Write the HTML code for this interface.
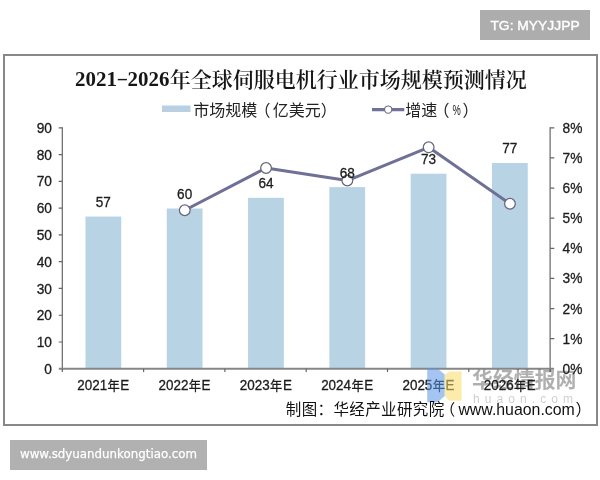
<!DOCTYPE html>
<html lang="zh-CN"><head><meta charset="utf-8"><title>2021-2026年全球伺服电机行业市场规模预测情况</title>
<style>
html,body{margin:0;padding:0;background:#fff;}
body{width:600px;height:480px;overflow:hidden;position:relative;font-family:"Liberation Sans","Noto Sans CJK SC",sans-serif;}
svg{position:absolute;left:0;top:0;display:block}
text{font-family:"Liberation Sans","Noto Sans CJK SC",sans-serif;fill:#1c1c1c}
.ax{stroke:#1c1c1c;stroke-width:0.3px}
.title{font-family:"Liberation Serif","Noto Serif CJK SC",serif;font-weight:bold;fill:#161616}
.lg{fill:#222}
.src{fill:#111}
.badge{font-family:"DejaVu Sans","Liberation Sans",sans-serif;fill:#fff}
</style></head><body>
<svg width="600" height="480" viewBox="0 0 600 480">
<rect x="0" y="0" width="600" height="480" fill="#fff"/>
<rect x="480" y="10" width="110" height="30" fill="#adadad"/>
<text transform="translate(490.4 29.6) scale(1.1 1)" font-size="12.6" stroke="#fff" stroke-width="0.35" style="font-family:'Liberation Sans',sans-serif;fill:#fff">TG: MYYJJPP</text>
<rect x="4" y="55" width="593" height="370" fill="#fff" stroke="#888" stroke-width="2"/>
<text class="title" transform="translate(75.1 86) scale(0.96 1)" font-size="21.8">2021</text>
<text class="title" transform="translate(116.6 83.6) scale(1.62 0.8)" font-size="21.8">-</text>
<text class="title" transform="translate(127.6 86) scale(0.96 1)" font-size="21.8">2026</text>
<text class="title" x="169.8" y="87.3" font-size="21" style="font-weight:600">年全球伺服电机行业市场规模预测情况</text>
<rect x="162" y="105.5" width="28.5" height="6.5" fill="#b9d0e3"/>
<text class="lg" x="193.2" y="115.7" font-size="16">市场规模<tspan dx="-2.6">（</tspan><tspan dx="2.2">亿美元）</tspan></text>
<line x1="372" y1="109.6" x2="404.3" y2="109.6" stroke="#70729a" stroke-width="3.1"/>
<circle cx="388.2" cy="109.6" r="3.65" fill="#fff" stroke="#6a6c88" stroke-width="1.15"/>
<text class="lg" y="115.7" font-size="16"><tspan x="405.2">增速</tspan><tspan x="433.4">（</tspan><tspan x="462.6">）</tspan></text>
<text class="lg" transform="translate(452.4 115) scale(0.62 1)" font-size="15" fill="#444">%</text>
<rect x="85.45" y="216.57" width="35.8" height="152.23" fill="#b8d3e4"/>
<rect x="166.75" y="208.53" width="35.8" height="160.27" fill="#b8d3e4"/>
<rect x="248.05" y="197.82" width="35.8" height="170.98" fill="#b8d3e4"/>
<rect x="329.35" y="187.11" width="35.8" height="181.69" fill="#b8d3e4"/>
<rect x="410.65" y="173.72" width="35.8" height="195.08" fill="#b8d3e4"/>
<rect x="491.95" y="163.01" width="35.8" height="205.79" fill="#b8d3e4"/>
<path d="M62.3 127.3V369.6M550.1 127.3V369.6" fill="none" stroke="#666" stroke-width="1.2"/>
<path d="M58.8 368.8H554.1" fill="none" stroke="#868686" stroke-width="1.9"/>
<path d="M58.70 342.02H62.3M58.70 315.24H62.3M58.70 288.47H62.3M58.70 261.69H62.3M58.70 234.91H62.3M58.70 208.13H62.3M58.70 181.36H62.3M58.70 154.58H62.3M58.70 127.80H62.3M550.1 338.68H554.30M550.1 308.55H554.30M550.1 278.43H554.30M550.1 248.30H554.30M550.1 218.18H554.30M550.1 188.05H554.30M550.1 157.93H554.30M550.1 127.80H554.30M62.30 368.8V372.00M143.60 368.8V372.00M224.90 368.8V372.00M306.20 368.8V372.00M387.50 368.8V372.00M468.80 368.8V372.00M550.10 368.8V372.00" fill="none" stroke="#666" stroke-width="1.2"/>
<text class="ax" transform="translate(52.00 373.90) scale(0.96 1)" font-size="14.3" text-anchor="end" >0</text>
<text class="ax" transform="translate(52.00 347.12) scale(0.96 1)" font-size="14.3" text-anchor="end" >10</text>
<text class="ax" transform="translate(52.00 320.34) scale(0.96 1)" font-size="14.3" text-anchor="end" >20</text>
<text class="ax" transform="translate(52.00 293.57) scale(0.96 1)" font-size="14.3" text-anchor="end" >30</text>
<text class="ax" transform="translate(52.00 266.79) scale(0.96 1)" font-size="14.3" text-anchor="end" >40</text>
<text class="ax" transform="translate(52.00 240.01) scale(0.96 1)" font-size="14.3" text-anchor="end" >50</text>
<text class="ax" transform="translate(52.00 213.23) scale(0.96 1)" font-size="14.3" text-anchor="end" >60</text>
<text class="ax" transform="translate(52.00 186.46) scale(0.96 1)" font-size="14.3" text-anchor="end" >70</text>
<text class="ax" transform="translate(52.00 159.68) scale(0.96 1)" font-size="14.3" text-anchor="end" >80</text>
<text class="ax" transform="translate(52.00 132.90) scale(0.96 1)" font-size="14.3" text-anchor="end" >90</text>
<text class="ax" transform="translate(562.50 373.80) scale(0.96 1)" font-size="14.3" text-anchor="start" >0%</text>
<text class="ax" transform="translate(562.50 343.68) scale(0.96 1)" font-size="14.3" text-anchor="start" >1%</text>
<text class="ax" transform="translate(562.50 313.55) scale(0.96 1)" font-size="14.3" text-anchor="start" >2%</text>
<text class="ax" transform="translate(562.50 283.43) scale(0.96 1)" font-size="14.3" text-anchor="start" >3%</text>
<text class="ax" transform="translate(562.50 253.30) scale(0.96 1)" font-size="14.3" text-anchor="start" >4%</text>
<text class="ax" transform="translate(562.50 223.18) scale(0.96 1)" font-size="14.3" text-anchor="start" >5%</text>
<text class="ax" transform="translate(562.50 193.05) scale(0.96 1)" font-size="14.3" text-anchor="start" >6%</text>
<text class="ax" transform="translate(562.50 162.93) scale(0.96 1)" font-size="14.3" text-anchor="start" >7%</text>
<text class="ax" transform="translate(562.50 132.80) scale(0.96 1)" font-size="14.3" text-anchor="start" >8%</text>
<text class="ax" transform="translate(103.25 390.20) scale(0.94 1)" font-size="14.3" text-anchor="middle" >2021<tspan font-size="13" dx="0.4">年</tspan><tspan dx="0.6">E</tspan></text>
<text class="ax" transform="translate(184.55 390.20) scale(0.94 1)" font-size="14.3" text-anchor="middle" >2022<tspan font-size="13" dx="0.4">年</tspan><tspan dx="0.6">E</tspan></text>
<text class="ax" transform="translate(265.85 390.20) scale(0.94 1)" font-size="14.3" text-anchor="middle" >2023<tspan font-size="13" dx="0.4">年</tspan><tspan dx="0.6">E</tspan></text>
<text class="ax" transform="translate(347.15 390.20) scale(0.94 1)" font-size="14.3" text-anchor="middle" >2024<tspan font-size="13" dx="0.4">年</tspan><tspan dx="0.6">E</tspan></text>
<text class="ax" transform="translate(428.45 390.20) scale(0.94 1)" font-size="14.3" text-anchor="middle" >2025<tspan font-size="13" dx="0.4">年</tspan><tspan dx="0.6">E</tspan></text>
<text class="ax" transform="translate(509.75 390.20) scale(0.94 1)" font-size="14.3" text-anchor="middle" >2026<tspan font-size="13" dx="0.4">年</tspan><tspan dx="0.6">E</tspan></text>
<polyline points="184.75,210.25 266.05,167.97 347.35,180.52 428.65,147.29 509.95,203.73" fill="none" stroke="#6e7096" stroke-width="3" stroke-linejoin="round"/>
<circle cx="184.75" cy="210.25" r="5.35" fill="#fff" stroke="#66677a" stroke-width="1.25"/>
<circle cx="266.05" cy="167.97" r="5.35" fill="#fff" stroke="#66677a" stroke-width="1.25"/>
<circle cx="347.35" cy="180.52" r="5.35" fill="#fff" stroke="#66677a" stroke-width="1.25"/>
<circle cx="428.65" cy="147.29" r="5.35" fill="#fff" stroke="#66677a" stroke-width="1.25"/>
<circle cx="509.95" cy="203.73" r="5.35" fill="#fff" stroke="#66677a" stroke-width="1.25"/>
<text class="ax" transform="translate(103.35 206.97) scale(0.93 1)" font-size="14.6" text-anchor="middle" >57</text>
<text class="ax" transform="translate(184.65 198.93) scale(0.93 1)" font-size="14.6" text-anchor="middle" >60</text>
<text class="ax" transform="translate(265.95 188.22) scale(0.93 1)" font-size="14.6" text-anchor="middle" >64</text>
<text class="ax" transform="translate(347.25 177.51) scale(0.93 1)" font-size="14.6" text-anchor="middle" >68</text>
<text class="ax" transform="translate(428.55 164.12) scale(0.93 1)" font-size="14.6" text-anchor="middle" >73</text>
<text class="ax" transform="translate(509.85 153.41) scale(0.93 1)" font-size="14.6" text-anchor="middle" >77</text>
<g opacity="0.55">
<polygon points="427.2,368.5 437.5,368.5 444.8,374.5 444.8,396 437.5,402.3 427.2,402.3" fill="#5b95e6"/>
<polygon points="444.8,374.5 449.5,371.5 461.6,371.5 461.6,400.7 449.5,400.7 444.8,396" fill="#f9de6a"/>
</g>
<text x="472" y="386.8" font-size="20.9" font-weight="bold" fill="#757575" opacity="0.35" style="font-family:'Liberation Sans','Noto Sans CJK SC',sans-serif">华经情报网</text>
<text x="473" y="403.3" font-size="12" fill="#757575" opacity="0.22" textLength="100" lengthAdjust="spacing">huaon.com</text>
<text class="src" y="415.4" font-size="15.5"><tspan x="285.8" letter-spacing="0.38">制图：华经产业研究院</tspan><tspan x="439.8">（</tspan></text>
<text class="src" transform="translate(458.40 414.80) scale(0.945 1)" font-size="16.8" text-anchor="start" >www.huaon.com</text>
<text class="src" x="575.6" y="415.4" font-size="16">）</text>
<rect x="10" y="440" width="197" height="30" fill="#b1b1b1"/>
<text class="badge" x="108.5" y="457.8" font-size="12.5" text-anchor="middle" textLength="177" stroke="#fff" stroke-width="0.25" lengthAdjust="spacingAndGlyphs">www.sdyuandunkongtiao.com</text>
</svg>
</body></html>
